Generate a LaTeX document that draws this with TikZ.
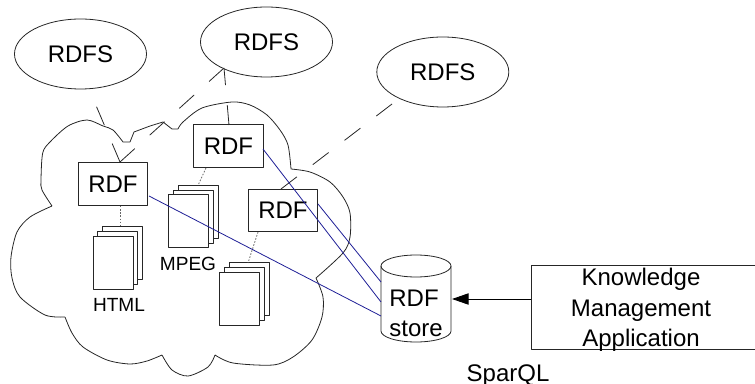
\documentclass[tikz,border=0pt]{standalone}
\usepackage{fontspec}
\setmainfont{Liberation Sans}
\usetikzlibrary{shapes.geometric,arrows.meta}
\definecolor{linkblue}{RGB}{30,30,150}
\tikzset{
  x=0.75pt,y=-0.75pt,
  outline/.style={draw=black!85,line width=0.6pt,line join=round},
  big/.style={font=\fontsize{18}{27.5}\selectfont,text=black,align=center},
  small/.style={font=\fontsize{14.3}{17}\selectfont,text=black},
  rdfs/.style={outline,ellipse,minimum width=99pt,minimum height=52.5pt,inner sep=0pt,big},
  rdfbox/.style={outline,rectangle,minimum width=52pt,minimum height=32pt,inner sep=0pt,big},
  page/.style={outline,fill=white,rectangle,minimum width=30pt,minimum height=39.7pt,inner sep=0pt},
  link/.style={draw=linkblue,line width=0.6pt},
  dashlink/.style={draw=black!85,line width=0.6pt,dash pattern=on 15pt off 15pt},
  dots/.style={draw=black!60,line width=0.6pt,dash pattern=on 1.2pt off 1.2pt},
}
\begin{document}
\begin{tikzpicture}
\useasboundingbox (0,0) rectangle (755,384);
\clip (0,0) rectangle (755,384);
% cloud
\draw[outline] plot[smooth,tension=0.5] coordinates {(52,206)(42,190)(41,180)(42.7,153)(50,142)(68,126)(87,120)(103,126)(113,130)(123,142)}
 -- (130,142) -- (134,132) -- (150,126) -- (163,122) -- (172,129) -- (178,129)
 plot[smooth,tension=0.5] coordinates {(178,129)(183,122)(202,108)(232,102)(250,105)(267,115)(280,130)(288,145)(291,169)}
 plot[smooth,tension=0.5] coordinates {(291,169)(310,172)(330,182)(343,197)(350,213)(350,237)(343,253)(316,278)}
 plot[smooth,tension=0.5] coordinates {(316,278)(323,297)(322,317)(312,340)(293,357)(273,365)(233,363)(215,355)}
 plot[smooth,tension=0.5] coordinates {(215,355)(208,367)(188,376)(172,370)(162,355)}
 plot[smooth,tension=0.5] coordinates {(162,355)(147,361)(130,364)(107,360)(83,347)(72,333)(65,317)}
 plot[smooth,tension=0.5] coordinates {(65,317)(45,315)(20,297)(12,278)(11,257)(17,232)(30,217)(52,206)};
% ontology ellipses
\node[rdfs] (s1) at (80.5,54) {RDFS};
\node[rdfs] (s2) at (266.5,42) {RDFS};
\node[rdfs] (s3) at (442.8,72) {RDFS};
% RDF boxes
\node[rdfbox] (r1) at (113,184) {RDF};
\node[rdfbox] (r2) at (228.5,146) {RDF};
\node[rdfbox] (r3) at (283,210.5) {RDF};
% document stacks
\node[page] (h3) at (122,252.5) {};
\node[page] (h2) at (117.5,257.5) {};
\node[page] (h1) at (113,262.5) {};
\node[page] (m3) at (198,212) {};
\node[page] (m2) at (193,216.5) {};
\node[page] (m1) at (188,221) {};
\node[page] (o3) at (249,289) {};
\node[page] (o2) at (244,294) {};
\node[page] (o1) at (239,298.5) {};
\node[small,anchor=base] (html) at (119,311) {HTML};
\node[small,anchor=base] (mpeg) at (188,271) {MPEG};
% store
\draw[outline] (381,266) -- (381,331) arc[start angle=180,end angle=360,x radius=26.25pt,y radius=8.25pt] -- (451,266);
\draw[outline] (416,266) ellipse[x radius=26.25pt,y radius=8.25pt];
\node[big,anchor=base] (storelabel1) at (414,306) {RDF};
\node[big,anchor=base] (storelabel2) at (416,336) {store};
% application
\node[outline,rectangle,minimum width=180pt,minimum height=63pt,inner sep=0pt,anchor=west] (app) at (531,307) {};
\node[big,anchor=base] (k1) at (641,285) {Knowledge};
\node[big,anchor=base] (k2) at (641,316) {Management};
\node[big,anchor=base] (k3) at (641,346.5) {Application};
\node[big,anchor=base] (sparql) at (508,381) {SparQL};
% anchor points
\coordinate (t1) at (120,162);
\coordinate (e1) at (89,89);
\coordinate (e2a) at (224,68);
\coordinate (t2) at (229,125);
\coordinate (t3) at (281,189);
\coordinate (e3) at (392,104);
\coordinate (b1) at (149,196);
\coordinate (b2) at (263,149);
\coordinate (b3) at (318,204);
\coordinate (c1) at (381,316);
\coordinate (c2) at (381,282);
\coordinate (c3) at (381,302);
% connectors
\draw[dashlink] (t1) -- (e1);
\draw[dashlink] (t1) -- (e2a);
\draw[dashlink] (t2) -- (e2a);
\draw[dashlink] (t3) -- (e3);
\draw[link] (b1) -- (c1);
\draw[link] (b2) -- (c3);
\draw[link] (b3) -- (c2);
\draw[dots] (r1.south -| t1) -- (h3.north -| t1);
\draw[dots] (206,168) -- (198,185.5);
\draw[dots] (258,232) -- (248,263);
\draw[draw=black,line width=0.7pt,-{Triangle[length=12.5pt,width=8.5pt]}] (app.west) ++(0,-8) -- (452,299);
\end{tikzpicture}
\end{document}
